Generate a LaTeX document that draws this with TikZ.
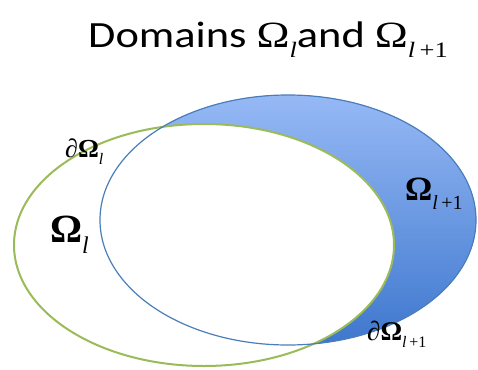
\documentclass[tikz,border=0pt]{standalone}
\usepackage{fontspec}
\setmainfont{Carlito}
\newfontfamily\tnr{Liberation Serif}

\definecolor{domblue}{HTML}{4A7EBB}
\definecolor{domgreen}{HTML}{9BBB59}
\definecolor{filltop}{HTML}{96B9F5}
\definecolor{fillmid}{HTML}{80A9EE}
\definecolor{fillbot}{HTML}{3E77CE}

% Omega with a lowered subscript: #1 = weight, #2 = subscript size, #3 = subscript
\newcommand{\omsub}[3]{{\tnr#1Ω}\raisebox{-0.28em}{\fontsize{#2}{#2}\selectfont\tnr #3}}

\begin{document}
\begin{tikzpicture}[x=1pt, y=-1pt,
    lbl/.style={anchor=base west, inner sep=0pt}]
    \useasboundingbox (0, 0) rectangle (478, 369);

    % the larger domain, shaded, with the smaller one laid over it
    \fill[top color=filltop, middle color=fillmid, bottom color=fillbot] (288, 220) ellipse [x radius=188, y radius=125];
    \draw[domgreen, line width=2pt, fill=white] (204, 245) ellipse [x radius=190, y radius=121];
    \draw[domblue, line width=1.2pt] (288, 220) ellipse [x radius=188, y radius=125];

    \node[lbl, font=\fontsize{37}{40}\selectfont, xscale=1.2, transform shape] (title) at (88, 47)
        {Domains \omsub{}{22}{\itshape l}and \omsub{}{22}{{\itshape l}\,+1}};

    \node[lbl, font=\fontsize{26}{26}\selectfont] (bdl) at (65, 157)
        {{\tnr\itshape ∂}\omsub{\bfseries}{16}{\itshape l}};
    \node[lbl, font=\fontsize{40}{40}\selectfont] (oml) at (50, 242)
        {\omsub{\bfseries}{24}{\itshape l}};
    \node[lbl, font=\fontsize{34}{34}\selectfont] (omn) at (405, 200)
        {\omsub{\bfseries}{20}{{\itshape l}\,+1}};
    \node[lbl, font=\fontsize{27}{27}\selectfont] (bdn) at (367, 340)
        {{\tnr\itshape ∂}\omsub{\bfseries}{16}{{\itshape l}\,+1}};
\end{tikzpicture}
\end{document}
